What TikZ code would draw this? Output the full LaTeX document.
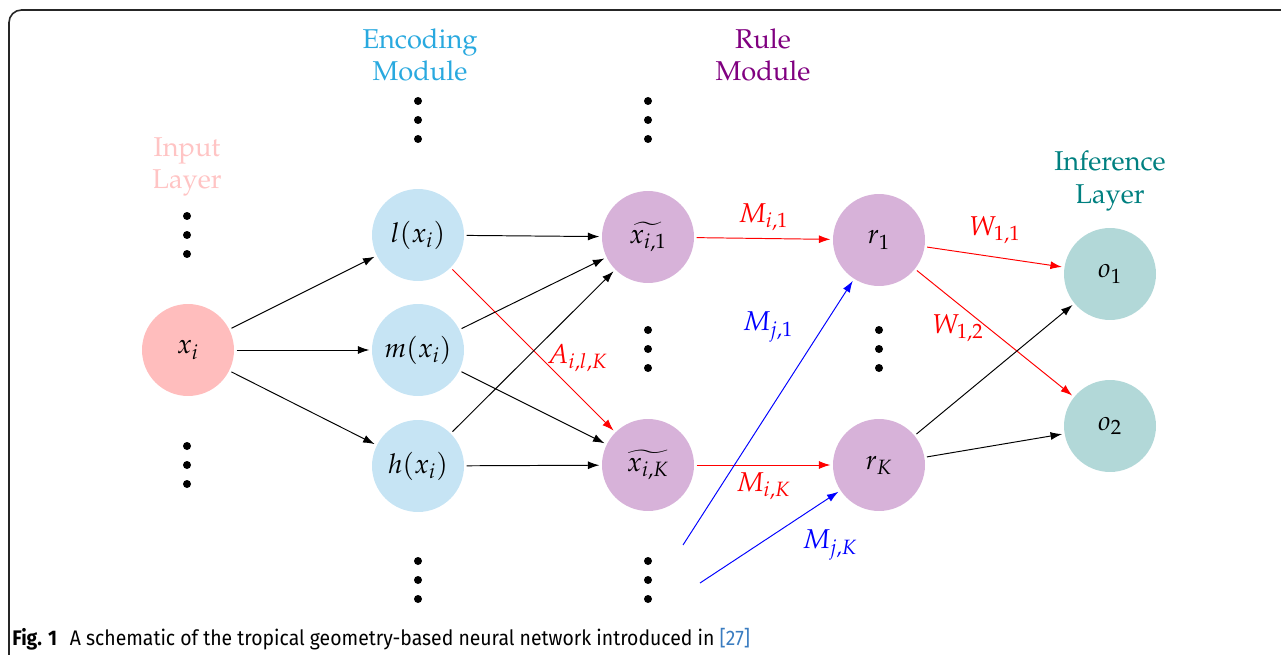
\documentclass[tikz,border=0pt]{standalone}
\usepackage{amssymb,amsmath}
\usepackage{mathpazo}
\usepackage{fontspec}
\newfontfamily\capfont[FakeStretch=0.92]{Fira Sans}
\newcommand{\palfont}{\fontencoding{OT1}\fontfamily{ppl}\selectfont}
\usepackage{tikz}
\usetikzlibrary{arrows.meta}
\usepackage{xcolor}
\definecolor{inpink}{HTML}{FFBDBD}
\definecolor{encblue}{HTML}{C6E4F4}
\definecolor{rulepurple}{HTML}{D7B2D9}
\definecolor{infteal}{HTML}{B2D8D8}
\definecolor{enctext}{HTML}{29A9DF}
\definecolor{ruletext}{HTML}{800080}
\definecolor{refblue}{HTML}{3A7CC0}

\begin{document}
\begin{tikzpicture}[
    x=0.02cm, y=-0.02cm,
    every node/.style={font=\palfont\fontsize{15.5}{18.5}\selectfont},
    unit/.style={circle, minimum size=1.84cm, inner sep=0pt, outer sep=1.5pt},
    inputnode/.style={unit, fill=inpink},
    encnode/.style={unit, fill=encblue},
    rulenode/.style={unit, fill=rulepurple},
    infnode/.style={unit, fill=infteal},
    title/.style={align=center},
    link/.style={-{Latex[length=2.3mm,width=1.6mm]}, line width=0.55pt},
    wlabel/.style={inner sep=1pt},
    vdot/.style={circle, fill=black, minimum size=0.16cm, inner sep=0pt}
]
\useasboundingbox (0,0) rectangle (1281,655);
% Frame
\draw[line width=0.9pt, black!85, rounded corners=0.25cm] (9,655) -- (9,10) -- (1281,10);
% Layer titles
\node[title, text=inpink!90] (tin) at (187,167) {Input\\Layer};
\node[title, text=enctext] (tenc) at (420,55) {Encoding\\Module};
\node[title, text=ruletext] (trule) at (763,55) {Rule\\Module};
\node[title, text=teal] (tinf) at (1110,181) {Inference\\Layer};
% Graph vertices
\node[inputnode] (xi) at (188,350) {$x_i$};
\node[encnode] (lx) at (418,235) {$l(x_i)$};
\node[encnode] (mx) at (418,350) {$m(x_i)$};
\node[encnode] (hx) at (418,466) {$h(x_i)$};
\node[rulenode] (xt1) at (648,237) {$\widetilde{x_{i,1}}$};
\node[rulenode] (xtK) at (648,465) {$\widetilde{x_{i,K}}$};
\node[rulenode] (r1) at (879,240) {$r_1$};
\node[rulenode] (rK) at (879,465) {$r_K$};
\node[infnode] (o1) at (1110,274) {$o_1$};
\node[infnode] (o2) at (1110,426) {$o_2$};
% Dots
\foreach \cx/\cy in {187/216, 187/446, 418/101, 418/561, 648/101, 648/330, 648/561, 879/330}
  \foreach \k in {0,1,2}
    \node[vdot] (d\cx-\cy-\k) at (\cx,\cy+19*\k) {};
% Loose ends
\coordinate (bj1) at (683,545);
\coordinate (bjK) at (700,583);
% Edges
\draw[link] (xi) -- (lx);
\draw[link] (xi) -- (mx);
\draw[link] (xi) -- (hx);
\draw[link] (lx) -- (xt1);
\draw[link, red] (lx) -- node[wlabel, pos=0.55, right=2pt] (aik) {$A_{i,l,K}$} (xtK);
\draw[link] (mx) -- (xt1);
\draw[link] (mx) -- (xtK);
\draw[link] (hx) -- (xt1);
\draw[link] (hx) -- (xtK);
\draw[link, red] (xt1) -- node[wlabel, above=3pt] (mi1) {$M_{i,1}$} (r1);
\draw[link, red] (xtK) -- node[wlabel, below=3pt] (miK) {$M_{i,K}$} (rK);
\draw[link, blue] (bj1) -- (r1);
\draw[link, blue] (bjK) -- (rK);
\node[wlabel, text=blue] (mj1) at (768,327) {$M_{j,1}$};
\node[wlabel, text=blue] (mjK) at (830,545) {$M_{j,K}$};
\draw[link, red] (r1) -- (o1);
\draw[link, red] (r1) -- (o2);
\node[wlabel, text=red] (w11) at (995,230) {$W_{1,1}$};
\node[wlabel, text=red] (w12) at (958,328) {$W_{1,2}$};
\draw[link] (rK) -- (o1);
\draw[link] (rK) -- (o2);
% Caption
\node[anchor=base west, inner sep=0pt, font=\capfont\fontsize{12}{14}\selectfont] (cap) at (12,645)
  {\textbf{Fig. 1}\hspace{0.6em}A schematic of the tropical geometry-based neural network introduced in {\color{refblue}[27]}};
\end{tikzpicture}
\end{document}
